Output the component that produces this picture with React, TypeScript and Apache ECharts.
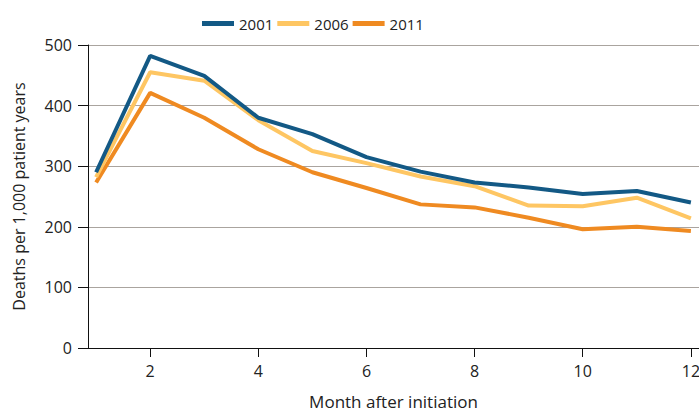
import React, { useEffect, useRef } from "react";
import * as echarts from "echarts";

const months = [1, 2, 3, 4, 5, 6, 7, 8, 9, 10, 11, 12];
const s2001 = [290, 482, 449, 380, 353, 315, 291, 273, 265, 254, 259, 240];
const s2006 = [282, 455, 441, 376, 325, 305, 283, 267, 235, 234, 248, 214];
const s2011 = [273, 421, 380, 328, 290, 264, 237, 232, 215, 196, 200, 193];
const seriesNames = ["2001", "2006", "2011"];
const xTicks = [2, 4, 6, 8, 10, 12];

const FONT = "'Open Sans', 'Noto Sans', sans-serif";

export default function App() {
  const ref = useRef<HTMLDivElement>(null);
  useEffect(() => {
    document.body.style.margin = "0";
    const chart = echarts.init(ref.current!, null, { renderer: "svg" });
    const mk = (vals: number[]) => months.map((m, i) => [m, vals[i]]);
    chart.setOption({
      animation: false,
      textStyle: { fontFamily: FONT },
      color: ["#135985", "#fec663", "#ef8a21"],
      legend: {
        left: 197,
        top: 11,
        icon: "rect",
        itemWidth: 32,
        itemHeight: 5,
        itemGap: 4,
        textStyle: { fontSize: 15, color: "#222", fontFamily: FONT },
        data: seriesNames,
      },
      grid: { left: 88, top: 45, right: 0, bottom: 67, containLabel: false, outerBoundsMode: "none" },
      xAxis: {
        type: "value",
        min: 0.85,
        max: 12.15,
        name: "Month after initiation",
        nameLocation: "middle",
        nameGap: 45,
        nameTextStyle: { fontSize: 17, color: "#222" },
        axisLine: { show: true, onZero: false, lineStyle: { color: "#111", width: 1 } },
        axisTick: { show: true, length: 9, customValues: xTicks, lineStyle: { color: "#111" } },
        axisLabel: { customValues: xTicks, fontSize: 16, color: "#222", margin: 15 },
        splitLine: { show: false },
      },
      yAxis: {
        type: "value",
        min: 0,
        max: 500,
        interval: 100,
        name: "Deaths per 1,000 patient years",
        nameLocation: "middle",
        nameGap: 61,
        nameTextStyle: { fontSize: 16, color: "#222" },
        axisLine: { show: true, lineStyle: { color: "#111", width: 1 } },
        axisTick: { show: true, length: 10, lineStyle: { color: "#111" } },
        axisLabel: { fontSize: 16, color: "#222", margin: 16 },
        splitLine: { show: true, lineStyle: { color: "#aaa49f", width: 1 } },
      },
      series: [
        { name: seriesNames[0], type: "line", data: mk(s2001), symbol: "none", lineStyle: { width: 4 }, z: 3 },
        { name: seriesNames[1], type: "line", data: mk(s2006), symbol: "none", lineStyle: { width: 4 }, z: 2 },
        { name: seriesNames[2], type: "line", data: mk(s2011), symbol: "none", lineStyle: { width: 4 }, z: 1 },
      ],
    });
    return () => chart.dispose();
  }, []);
  return <div ref={ref} style={{ width: 699, height: 415 }} />;
}
